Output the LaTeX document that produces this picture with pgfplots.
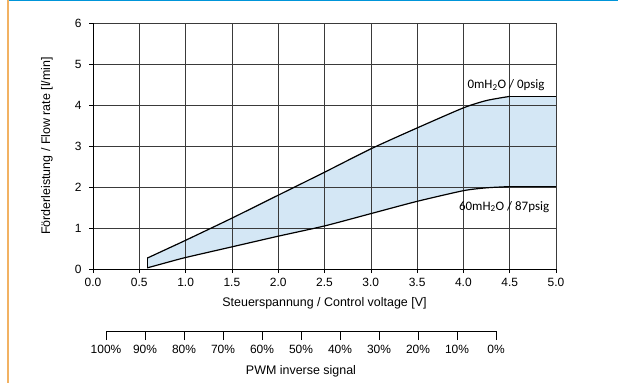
\documentclass[border=0pt]{standalone}
\usepackage{pgfplots}
\pgfplotsset{compat=1.18}
\usepackage{fontspec}
\setmainfont{Liberation Sans}
\newfontfamily\calibri{Carlito}
\definecolor{fillblue}{HTML}{D4E7F5}
\definecolor{topblue}{HTML}{0095D9}
\definecolor{sideorange}{HTML}{F2B263}
\definecolor{gridgray}{HTML}{3A3A3A}

\begin{document}
\begin{tikzpicture}
\fill[topblue] (-84bp,267.5bp) rectangle (525bp,269bp);
\fill[sideorange] (-86bp,-114bp) rectangle (-84bp,269bp);
\begin{axis}[
 at={(0,0)}, anchor=south west,
 scale only axis, width=463bp, height=246bp,
 xmin=0, xmax=5, ymin=0, ymax=6,
 xtick={0,0.5,...,5}, ytick={0,1,...,6},
 axis x line=bottom, axis y line=left,
 axis line style={-, black, line width=0.6pt},
 grid=major, grid style={gridgray, line width=0.5pt},
 tick align=outside, major tick length=4bp, tick style={black, line width=0.5pt},
 xticklabel style={/pgf/number format/fixed, /pgf/number format/fixed zerofill, /pgf/number format/precision=1, yshift=-2bp},
 yticklabel style={xshift=-4bp},
 /pgf/number format/assume math mode=true,
 tick label style={font=\fontsize{12}{14}\selectfont},
 xlabel={Steuerspannung / Control voltage [V]},
 ylabel={Förderleistung / Flow rate [l/min]},
 label style={font=\fontsize{12.5}{14}\selectfont},
 xlabel style={at={(axis description cs:0.5,-0.138)}, anchor=center},
 ylabel style={at={(axis description cs:-0.0994,0.5)}, anchor=center},
 set layers,
]
\addplot[fill=fillblue, draw=none, on layer=axis background] coordinates {
 (0.59,0.27) (0.8,0.49) (1.0,0.70) (1.5,1.24) (2.0,1.80) (2.5,2.36) (3.0,2.93) (3.5,3.44) (4.0,3.93) (4.25,4.11) (4.5,4.21) (5.0,4.21)
 (5.0,2.01) (4.5,2.01) (4.25,1.98) (4.0,1.91) (3.5,1.65) (3.0,1.35) (2.5,1.05) (2.0,0.80) (1.5,0.54) (1.0,0.28) (0.8,0.16) (0.59,0.03)
};
\addplot[black, line width=1.2pt, smooth, tension=0.4, line cap=round] coordinates {
 (0.59,0.27) (0.8,0.49) (1.0,0.70) (1.5,1.24) (2.0,1.80) (2.5,2.36) (3.0,2.93) (3.5,3.44) (4.0,3.93) (4.25,4.11) (4.5,4.21)
};
\addplot[black, line width=1.2pt, line cap=round] coordinates {(4.5,4.21) (5.0,4.21)};
\addplot[black, line width=1.2pt, line cap=round] coordinates {(0.59,0.27) (0.59,0.03)};
\addplot[black, line width=1.2pt, smooth, tension=0.4, line cap=round] coordinates {
 (0.59,0.03) (0.8,0.16) (1.0,0.28) (1.5,0.54) (2.0,0.80) (2.5,1.05) (3.0,1.35) (3.5,1.65) (4.0,1.91) (4.25,1.98) (4.5,2.01)
};
\addplot[black, line width=1.2pt, line cap=round] coordinates {(4.5,2.01) (5.0,2.01)};
\node[font=\calibri\fontsize{13}{15}\selectfont] at (axis cs:4.46,4.49) {0mH\textsubscript{2}O / 0psig};
\node[font=\calibri\fontsize{13}{15}\selectfont] at (axis cs:4.44,1.52) {60mH\textsubscript{2}O / 87psig};
\end{axis}
\begin{axis}[
 at={(13bp,-62bp)}, anchor=south west,
 scale only axis, width=390bp, height=10bp,
 xmin=0, xmax=100, ymin=0, ymax=1, x dir=reverse,
 axis x line=bottom, axis y line=none, ytick=\empty,
 axis line style={-, black, line width=0.5pt},
 xtick={0,10,...,100},
 xticklabel={\pgfmathprintnumber{\tick}\%},
 xticklabel style={yshift=-2bp},
 tick align=outside, major tick length=9bp, tick style={black, line width=0.5pt},
 /pgf/number format/assume math mode=true,
 tick label style={font=\fontsize{12}{14}\selectfont},
 xlabel={PWM inverse signal},
 label style={font=\fontsize{12.5}{14}\selectfont},
 xlabel style={at={(axis description cs:0.5,-4)}, anchor=center},
]
\end{axis}
\path (-93bp,-114bp) rectangle (525bp,269bp);
\end{tikzpicture}
\end{document}
